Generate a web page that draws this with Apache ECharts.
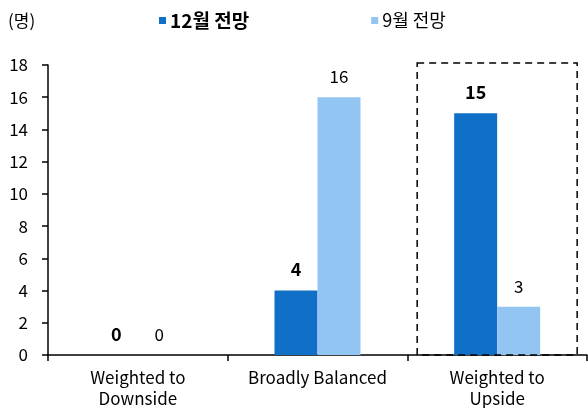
<!DOCTYPE html>
<html>
<head>
<meta charset="utf-8">
<script src="https://cdn.jsdelivr.net/npm/echarts@6/dist/echarts.min.js"></script>
<style>
  html, body { margin: 0; padding: 0; background: #fff; }
  #chart { width: 588px; height: 408px; }
</style>
</head>
<body>
<div id="chart"></div>
<script>
// Balance-of-risks survey: number of respondents per outlook
const categories = ['Weighted to\nDownside', 'Broadly Balanced', 'Weighted to\nUpside'];
const decOutlook = [0, 4, 15];   // 12월 전망
const sepOutlook = [0, 16, 3];   // 9월 전망
const seriesNames = ['12월 전망', '9월 전망'];
const yTicks = { min: 0, max: 18, interval: 2 };

const FONT = '"Noto Sans CJK KR", "Noto Sans", sans-serif';
const DARK = '#106fc6';
const LIGHT = '#93c5f3';

const chart = echarts.init(document.getElementById('chart'), null, { renderer: 'canvas' });

const option = {
  animation: false,
  backgroundColor: '#fff',
  textStyle: { fontFamily: FONT },
  grid: { left: 48, right: 1, top: 65, bottom: 53, containLabel: false, outerBoundsMode: 'none' },
  legend: {
    top: 6,
    left: 154,
    itemGap: 122,
    itemWidth: 7,
    itemHeight: 7,
    icon: 'rect',
    data: [
      { name: seriesNames[0], textStyle: { fontWeight: 'bold', fontSize: 19, color: '#000' } },
      { name: seriesNames[1], textStyle: { fontWeight: 'normal', fontSize: 18, color: '#000' } }
    ],
    textStyle: { fontFamily: FONT, padding: [0, 0, 0, -1] }
  },
  xAxis: {
    type: 'category',
    data: categories,
    axisLine: { lineStyle: { color: '#000', width: 1.5 } },
    axisTick: { show: true, length: 6, lineStyle: { color: '#000', width: 1.5 } },
    axisLabel: { interval: 0, color: '#000', fontSize: 17, fontFamily: FONT, margin: 12, lineHeight: 21 },
    splitLine: { show: false }
  },
  yAxis: {
    type: 'value',
    min: yTicks.min,
    max: yTicks.max,
    interval: yTicks.interval,
    name: '(명)',
    nameLocation: 'end',
    nameGap: 0,
    nameTextStyle: { color: '#000', fontSize: 17, fontFamily: FONT, align: 'left', padding: [0, 0, 36, -40] },
    axisLine: { show: true, lineStyle: { color: '#000', width: 1.5 } },
    axisTick: { show: true, length: 6, lineStyle: { color: '#000', width: 1.5 } },
    axisLabel: { color: '#000', fontSize: 17, fontFamily: FONT, margin: 20 },
    splitLine: { show: false }
  },
  series: [
    {
      name: seriesNames[0],
      type: 'bar',
      data: decOutlook,
      barWidth: 43,
      barGap: '0%',
      itemStyle: { color: DARK },
      label: { show: true, position: 'top', distance: 12, color: '#000', fontSize: 18, fontWeight: 'bold', fontFamily: FONT }
    },
    {
      name: seriesNames[1],
      type: 'bar',
      data: sepOutlook,
      barWidth: 43,
      barGap: '0%',
      itemStyle: { color: LIGHT },
      label: { show: true, position: 'top', distance: 12, color: '#000', fontSize: 17, fontFamily: FONT }
    }
  ]
};

chart.setOption(option);

// Dashed frame highlighting the upside category
const topLeft = chart.convertToPixel({ gridIndex: 0 }, [2, yTicks.max]);
const base = chart.convertToPixel({ gridIndex: 0 }, [2, 0]);
const halfBand = 79;
chart.setOption({
  graphic: [{
    type: 'rect',
    shape: { x: topLeft[0] - halfBand - 1, y: topLeft[1] - 2, width: halfBand * 2 + 2, height: base[1] - topLeft[1] + 2 },
    style: { fill: 'none', stroke: '#000', lineWidth: 1.5, lineDash: [7, 5] },
    z: 10
  }]
});
</script>
</body>
</html>
